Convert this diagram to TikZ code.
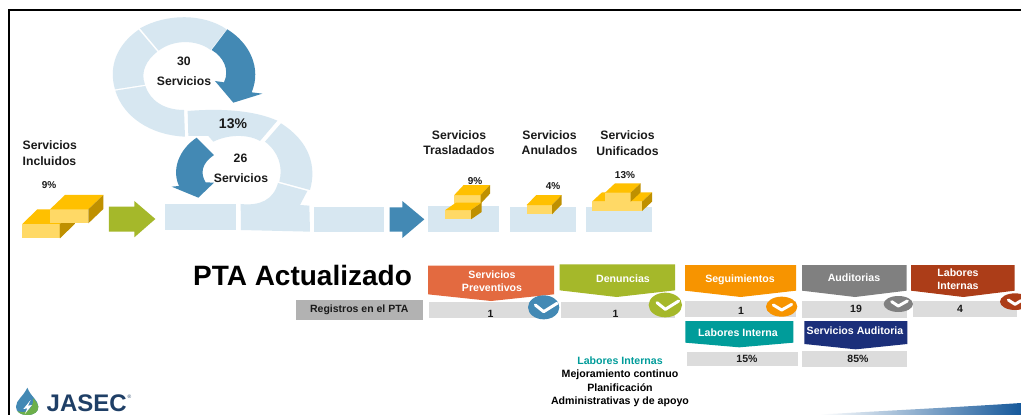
\documentclass[tikz,border=0pt]{standalone}
\usepackage{fontspec}
\setmainfont{Liberation Sans}
\definecolor{pale}{HTML}{D7E7F1}
\definecolor{ablue}{HTML}{4389B4}
\definecolor{agreen}{HTML}{A5B82A}
\definecolor{gtop}{HTML}{FFC000}
\definecolor{gfront}{HTML}{FFD966}
\definecolor{gside}{HTML}{BF9000}
\definecolor{cora}{HTML}{E36A40}
\definecolor{oran}{HTML}{F79400}
\definecolor{grayf}{HTML}{808080}
\definecolor{brown}{HTML}{AC3D18}
\definecolor{teal2}{HTML}{009C9A}
\definecolor{navy2}{HTML}{1B2F7A}
\definecolor{barg}{HTML}{DCDCDC}
\definecolor{regg}{HTML}{B2B2B2}
\definecolor{txt}{HTML}{1A1A1A}
\definecolor{logot}{HTML}{1F3F66}
\definecolor{swmid}{HTML}{2A80BC}
\definecolor{swend}{HTML}{15589A}
\definecolor{lgreen}{HTML}{6DAF4A}
\newcommand{\fs}[1]{\fontsize{#1}{#1}\selectfont}
% block: x y w h dx dy (zoom units)
\newcommand{\blk}[6]{%
  \fill[gfront] (#1,#2) rectangle ++(#3,#4);
  \fill[gtop] (#1,#2) -- ++(#5,-#6) -- ++(#3,0) -- ++(-#5,#6) -- cycle;
  \fill[gside] (#1+#3,#2) -- ++(#5,-#6) -- ++(0,#4) -- ++(-#5,#6) -- cycle;
}
\tikzset{
  ringpart/.style={fill=pale},
  bluearrow/.style={fill=ablue},
  lab/.style={font=\bfseries\fs{12.2},text=txt,align=center,inner sep=0pt},
  small/.style={font=\bfseries\fs{10},text=txt,align=center,inner sep=0pt},
  flagt/.style={font=\bfseries\fs{10.6},text=white,align=center,inner sep=0pt},
  val/.style={font=\bfseries\fs{10.5},text=txt,inner sep=0pt},
  check/.style={draw=white,line width=3pt,line cap=round,line join=round},
}
\begin{document}
\begin{tikzpicture}[x=1pt,y=-1pt]
\useasboundingbox (0,0) rectangle (1021,415);
\fill[white] (0,0) rectangle (1021,415);
% frame
\draw[black,line width=1.9pt] (8.6,415) -- (8.6,10) -- (1021,10);

% rings, zoom 1 coordinates
\begin{scope}[x=.33333pt,y=-.33333pt]
\fill[ringpart] (420,85) .. controls (500,40) and (610,40) .. (680,88) -- (632,150) .. controls (590,118) and (520,118) .. (476,152) -- cycle;
\fill[ringpart] (416,89) .. controls (350,135) and (325,200) .. (345,268) -- (435,254) .. controls (420,215) and (440,180) .. (472,155) -- cycle;
\fill[ringpart] (346,272) .. controls (370,350) and (450,405) .. (555,410) -- (552,330) .. controls (490,330) and (450,300) .. (436,258) -- cycle;
\fill[ringpart] (563,333) .. controls (660,325) and (760,330) .. (832,362) -- (780,423) .. controls (740,400) and (680,405) .. (640,425) -- (625,408) -- (565,408) -- cycle;
\fill[ringpart] (843,370) .. controls (930,425) and (950,500) .. (930,570) -- (838,545) .. controls (850,500) and (835,455) .. (795,425) -- cycle;
\fill[ringpart] (834,549) -- (922,573) -- (900,615) -- (928,617) -- (930,695) -- (723,690) -- (722,612) .. controls (780,618) and (820,600) .. cycle;
\fill[ringpart] (495,612) rectangle (707,690);
\fill[ringpart] (942,620) rectangle (1153,696);
% blue curved arrows
\fill[bluearrow] (682,88) .. controls (750,130) and (785,205) .. (755,277) -- (787,281) -- (700,308) -- (645,243) -- (672,247) .. controls (690,210) and (670,170) .. (635,150) -- cycle;
\fill[bluearrow] (590,413) -- (642,465) .. controls (605,490) and (600,520) .. (617,547) -- (642,548) -- (595,593) -- (515,560) -- (537,558) .. controls (515,510) and (535,450) .. (590,413) -- cycle;
% green arrow
\fill[agreen] (327,620) -- (403,620) -- (403,603) -- (466,657) -- (403,712) -- (403,695) -- (327,695) -- cycle;
% included blocks
\blk{67}{672}{113}{43}{45}{44}
\blk{150}{628}{115}{42}{45}{43}
\fill[gside] (180,672) -- (220,672) -- (180,712) -- cycle;
\end{scope}

% top right group, zoom 2 coordinates
\begin{scope}[shift={(380,110)},x=.33333pt,y=-.33333pt]
\fill[bluearrow] (29,292) -- (67,292) -- (67,273) -- (133,328) -- (67,384) -- (67,365) -- (29,365) -- cycle;
\fill[pale] (144,289) rectangle (356,367);
\fill[pale] (391,290) rectangle (588,367);
\fill[pale] (618,290) rectangle (815,367);
\blk{223}{255}{79}{26}{28}{30}
\blk{196}{300}{77}{28}{32}{22}
\blk{440}{285}{76}{28}{29}{30}
\blk{636}{275}{150}{28}{30}{28}
\blk{675}{248}{77}{27}{30}{28}
\end{scope}

% bars and flags, zoom 3 coordinates
\begin{scope}[shift={(420,255)},x=.33333pt,y=-.33333pt]
\fill[barg] (26,140) rectangle (400,190);
\fill[barg] (423,140) rectangle (765,190);
\fill[cora] (24,32) -- (402,32) -- (402,118) -- (213,138) -- (24,118) -- cycle;
\fill[agreen] (419,28) -- (765,28) -- (765,106) -- (590,126) -- (419,106) -- cycle;
\fill[ablue] (371,157) ellipse [x radius=47,y radius=36];
\draw[check] (346,150) -- (371,170) -- (411,145);
\fill[agreen] (736,150) ellipse [x radius=50,y radius=37];
\draw[check] (711,143) -- (736,163) -- (776,138);
\end{scope}
\begin{scope}[shift={(680,255)},x=.33333pt,y=-.33333pt]
\fill[barg] (15,137) rectangle (348,187);
\fill[barg] (366,137) rectangle (680,189);
\fill[barg] (700,137) rectangle (1010,187);
\fill[barg] (21,290) rectangle (353,332);
\fill[barg] (366,288) rectangle (680,335);
\fill[oran] (15,30) -- (348,30) -- (348,107) -- (182,126) -- (15,107) -- cycle;
\fill[grayf] (366,30) -- (680,30) -- (680,107) -- (525,126) -- (366,107) -- cycle;
\fill[brown] (693,30) -- (1004,30) -- (1004,107) -- (850,126) -- (693,107) -- cycle;
\fill[teal2] (16,198) -- (340,198) -- (340,263) -- (178,277) -- (16,263) -- cycle;
\fill[navy2] (373,198) -- (682,198) -- (682,267) -- (527,283) -- (373,267) -- cycle;
\fill[oran] (305,155) ellipse [x radius=47,y radius=30];
\draw[check] (280,150) -- (305,165) -- (335,148);
\fill[grayf] (655,147) ellipse [x radius=44,y radius=24];
\draw[check] (635,140) -- (655,153) -- (682,138);
\clip (0,0) rectangle (1023,480);
\fill[brown] (1005,140) ellipse [x radius=45,y radius=25];
\draw[check] (985,135) -- (1005,148) -- (1023,137);
\end{scope}
% swoosh
\shade[left color=white,middle color=swmid,right color=swend] (820,414.5) .. controls (900,410) and (960,407) .. (1021,403) -- (1021,415) -- (820,415) -- cycle;
% registros
\node[fill=regg,minimum width=127pt,minimum height=19.5pt,inner sep=0pt,font=\bfseries\fs{10.5},text=txt] (reg) at (359.3,310) {Registros en el PTA};

% logo
\begin{scope}[shift={(0,255)},x=.33333pt,y=-.33333pt]
\fill[ablue] (82,398) .. controls (70,425) and (48,435) .. (48,455) .. controls (48,470) and (60,480) .. (82,480) .. controls (104,480) and (115,470) .. (115,455) .. controls (115,435) and (92,425) .. (82,398) -- cycle;
\fill[lgreen] (100,430) .. controls (108,440) and (115,447) .. (115,455) .. controls (115,470) and (104,480) .. (82,480) .. controls (68,480) and (58,476) .. (52,468) .. controls (75,478) and (100,465) .. (100,430) -- cycle;
\fill[white] (92,435) -- (70,462) -- (82,460) -- (74,478) -- (96,450) -- (84,452) -- cycle;
\end{scope}
\node[font=\bfseries\fs{24},text=logot,inner sep=0pt,anchor=base west,text depth=0pt,text height=16pt] (jasec) at (46.5,411.5) {JASEC};
\node[font=\fs{5},text=logot,inner sep=0pt] (regm) at (129.5,397) {®};

% texts
\node[lab] (t30) at (184,61) {30};
\node[lab] (s30) at (184,81) {Servicios};
\node[lab,font=\bfseries\fs{14}] (p13) at (233,124) {13\%};
\node[lab] (t26) at (240.5,158) {26};
\node[lab] (s26) at (241,178) {Servicios};
\node[lab,anchor=west] (inc1) at (22.5,145.5) {Servicios};
\node[lab,anchor=west] (inc2) at (22.5,161) {Incluidos};
\node[small] (p9a) at (49,185) {9\%};
\node[lab] (tras1) at (459,135) {Servicios};
\node[lab] (tras2) at (459,150.5) {Trasladados};
\node[lab] (anu1) at (549.5,135) {Servicios};
\node[lab] (anu2) at (549.5,150.5) {Anulados};
\node[lab] (uni1) at (627.5,135.5) {Servicios};
\node[lab] (uni2) at (627.5,151) {Unificados};
\node[small] (p9b) at (475,181) {9\%};
\node[small] (p4) at (553,186) {4\%};
\node[small] (p13b) at (625,175.5) {13\%};
\node[inner sep=0pt,font=\bfseries\fs{28},text=black] (pta) at (302.5,275) {PTA Actualizado};
\node[flagt] (f1a) at (492,274.5) {Servicios};
\node[flagt] (f1b) at (492,288) {Preventivos};
\node[flagt] (f2) at (623,279) {Denuncias};
\node[flagt] (f3) at (740,280) {Seguimientos};
\node[flagt] (f4) at (854,278) {Auditorias};
\node[flagt] (f5a) at (958,272.5) {Labores};
\node[flagt] (f5b) at (958,285.5) {Internas};
\node[flagt] (f6) at (738,333) {Labores Interna};
\node[flagt] (f7) at (855,331) {Servicios Auditoria};
\node[val] (v1) at (490.5,314) {1};
\node[val] (v2) at (615.5,313.5) {1};
\node[val] (v3) at (741,311) {1};
\node[val] (v4) at (856,309) {19};
\node[val] (v5) at (960,309) {4};
\node[val] (v6) at (747,359) {15\%};
\node[val] (v7) at (858,359) {85\%};
\node[flagt,text=teal2] (li0) at (620,361) {Labores Internas};
\node[flagt,text=black] (li1) at (620,374.5) {Mejoramiento continuo};
\node[flagt,text=black] (li2) at (620,388) {Planificación};
\node[flagt,text=black] (li3) at (620,401.5) {Administrativas y de apoyo};
\end{tikzpicture}
\end{document}
